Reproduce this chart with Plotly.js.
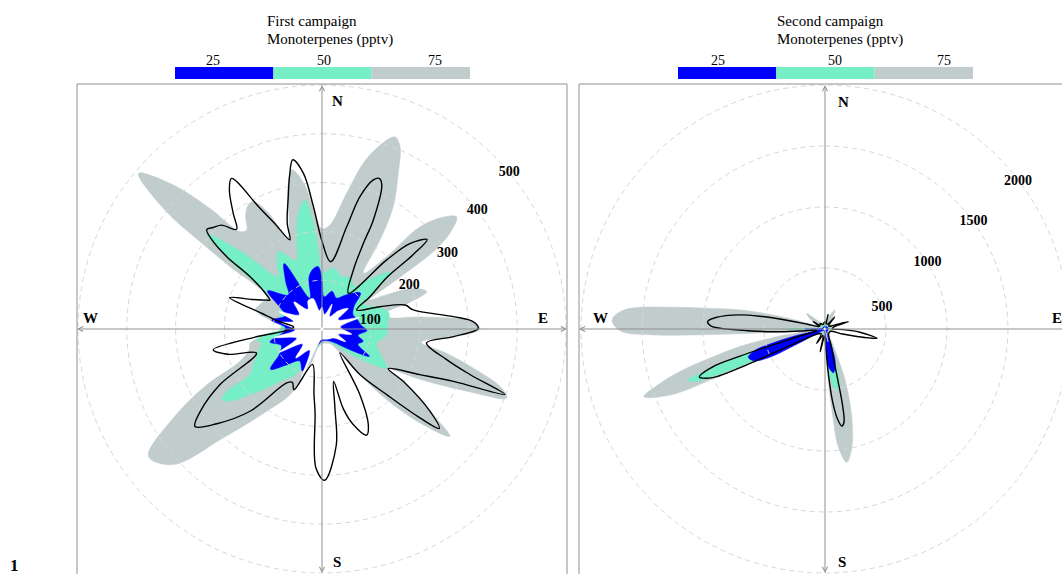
<!DOCTYPE html>
<html><head><meta charset="utf-8">
<script src="https://cdn.plot.ly/plotly-3.0.1.min.js"></script>
<style>html,body{margin:0;padding:0;background:#fff;}#chart{width:1062px;height:574px;}</style>
</head><body><div id="chart"></div>
<script>
// ---------- DATA (bearing in degrees clockwise from N, value in pptv) ----------
const percentileLabels = ['25', '50', '75'];
const percentileColors = ['#0000FF', '#76EEC6', '#C1CDCD'];

// First campaign
const p1Mean = [[0,180],[7.3,139],[13.6,216],[16,282],[19,323],[20.8,330],[22.5,320],[25.2,247],[25.8,195],[28,137],
 [36.4,91],[43.1,194],[45.8,251],[49.6,283],[50.8,240],[51.5,171],[56,119],[61.3,81],[68.9,127],[73.9,177],
 [78.2,191],[84.6,270],[87.2,310],[89.8,320],[93.3,270],[97.6,216],[103.8,263],[107.1,317],[109.7,398],[111.7,290],
 [115,221],[120.9,158],[122.8,198],[127.3,278],[130.3,315],[132.2,271],[135.4,189],[140.2,122],[143,61],[150,155],
 [154.2,218],[157.2,236],[161.9,206],[165,170],[167.5,110],[170.7,164],[173,240],[179,310],[182.5,285],[184.7,173],
 [187,135],[195,75],[204.8,137],[209,125],[213.2,132],[221.2,224],[228,290],[232.5,328],[236,300],[241.4,238],
 [249.8,143],[255,200],[259.2,227],[263,140],[268,70],[274,58],[280,90],[284.6,128],[288.8,200],[293,155],
 [297.5,128],[299,122],[301.6,133],[306,182],[307.2,245],[309,290],[310.8,312],[313,305],[316,296],[319.4,269],
 [322.5,299],[326.3,342],[329,360],[332.8,278],[336,235],[340.2,194],[341.8,228],[345.7,280],[348,320],[350.2,352],
 [353.2,321],[356,251]];
const p1P75 = [[0,205],[4.6,215],[10.3,283],[15,365],[20.8,421],[23.2,406],[26.1,355],[30.2,290],[33.1,218],[36.6,142],
 [41.8,199],[43.8,290],[47,335],[50.2,359],[53,330],[55,285],[56.5,190],[58.5,115],[62,150],[66,205],
 [70.4,228],[73,190],[76,135],[80,140],[83,202],[87,304],[90,324],[93,280],[97.5,205],[101,260],
 [104.5,320],[108,385],[110.5,404],[113,330],[117,230],[121,160],[123,198],[127.3,278],[130,342],[133.8,278],
 [137.5,196],[140,131],[143,60],[150,35],[165,30],[180,30],[192,40],[198,80],[206,150],[213.9,203],
 [222.2,301],[227.6,412],[233.7,441],[239.1,355],[244.2,262],[248.5,181],[254,155],[259,150],[265,100],[270,72],
 [280,110],[286,142],[293,135],[300.3,131],[304.1,228],[305.6,307],[307,399],[310.3,493],[314.1,424],[317.1,337],
 [319.9,261],[322.7,255],[326,280],[329.3,296],[331.7,296],[335,265],[339.5,200],[343,230],[346,290],[349.3,332],
 [353,300],[356,245]];
const p1P50 = [[0,115],[10.8,127],[20,115],[29,120],[37,110],[45,150],[50.3,182],[55,130],[60,100],[68,120],
 [76.5,141],[85,135],[95,133],[105,115],[113,130],[121,155],[127,110],[135,60],[145,35],[160,25],
 [180,25],[195,40],[205,80],[212,115],[218.7,137],[223,165],[227.6,200],[232,240],[234.8,251],[236.8,233],
 [237.6,175],[242,160],[250,140],[256.9,127],[260.4,136],[265,110],[270,85],[285,90],[298,97],[304.3,154],
 [306.5,226],[309.6,306],[314.1,223],[317.3,156],[320,140],[326,165],[331,182],[336,160],[340,150],[343,176],
 [348.4,242],[352.5,266],[356,203],[358.3,135]];
const p1P25 = [[0,100],[4,66],[15,80],[25,70],[35,85],[46.9,108],[55,80],[65,70],[75,75],[84,80],
 [92,92],[100,75],[106.6,88],[113,80],[120,112],[127,70],[140,35],[160,25],[180,25],[195,35],
 [205,95],[215,80],[225,105],[232,134],[240,100],[248,90],[256,110],[265,80],[272,75],[280,105],
 [290,80],[298,100],[305,136],[315.3,98],[322,120],[330,155],[338.6,68],[346,110],[352,125],[356.6,128]];
const p1Inner = [[0,45],[10,30],[22,55],[32,30],[42,50],[52,68],[60,38],[73,80],[84,38],[100,62],
 [108,35],[118,55],[128,30],[145,25],[165,22],[185,22],[195,35],[203,110],[210,50],[222,80],
 [232,50],[241.5,100],[250,55],[260,100],[268,55],[279,85],[285,60],[292,95],[302,55],[314,80],
 [324,50],[334,65],[343.7,65],[352,38]];
const p1TickVals = [100, 200, 300, 400, 500];

// Second campaign
const p2Mean = [[0,60],[8,45],[12,120],[16,45],[28,45],[39,125],[45,45],[57,40],[66,70],[72.5,200],
 [78,70],[88,60],[92,150],[95,280],[100.2,433],[103,282],[106,150],[112,50],[130,45],[145,50],
 [155,80],[160,150],[164,250],[166,450],[167.1,650],[168.5,780],[170.2,808],[172,750],[174,600],[175.5,400],
 [177.5,150],[183,60],[192,190],[198,55],[210,136],[218,50],[232,60],[240,100],[243,150],[245,400],
 [245.4,700],[246.6,1003],[249.1,1102],[251.4,971],[252.3,737],[253,450],[254.5,200],[258,70],[262,70],[265.4,206],
 [267,426],[269.3,701],[271.5,934],[273.6,964],[276,900],[279.4,710],[281.3,520],[282.5,380],[285,150],[290,60],
 [296,50],[302,113],[308,50],[320,60],[335,40],[350,50]];
const p2P75 = [[0,60],[15,100],[27.8,175],[40,80],[60,55],[90,70],[120,50],[145,60],[152,120],[155,200],
 [158.6,450],[163,750],[167.2,994],[170.7,1107],[173.5,977],[175,700],[176.5,400],[179,150],[185,60],[200,60],
 [225,70],[238,80],[243,300],[245,500],[246,1000],[246.8,1370],[249.5,1585],[252,1400],[254,1200],[256,950],
 [258.5,700],[261,400],[262.5,220],[264.5,230],[265.6,290],[266.6,600],[267.3,1000],[268,1400],[269.5,1680],[272.4,1747],
 [275.4,1656],[278.2,1249],[279.9,990],[282.8,704],[285.2,441],[288,200],[295,80],[304,150],[310.5,198],[318,100],
 [330,60],[345,55]];
const p2P50 = [[0,30],[27,70],[45,30],[90,40],[130,30],[155,40],[160,200],[163,355],[166,480],[169.6,512],
 [172.5,450],[175.5,366],[178,150],[185,40],[220,30],[240,40],[244,200],[245.5,500],[246.8,900],[248,1150],
 [249.5,1202],[250.8,1000],[252,750],[253.5,450],[256,150],[262,50],[267,60],[269,250],[270.5,316],[272,150],
 [275,50],[300,40],[310,70],[330,30]];
const p2P25 = [[0,20],[40,25],[90,25],[130,25],[155,40],[159,150],[163,290],[169,365],[174,320],[177,200],
 [180,60],[190,20],[230,20],[238,30],[241.5,250],[243,520],[246,640],[249.8,670],[253,600],[255,450],
 [257,250],[260,60],[265,30],[268,100],[270,165],[272,60],[280,25],[310,20],[340,20]];
const p2Inner = [[0,12],[45,10],[90,12],[135,10],[160,12],[167,110],[172,12],[225,12],[270,15],[315,10]];
const p2TickVals = [500, 1000, 1500, 2000];

// ---------- STYLE / PLACEMENT ----------
const W = 1062, H = 574;
const px = x => x / W, py = y => (H - y) / H;
const FONT = 'Liberation Serif, Times New Roman, serif';
const p1LabelBearing = [80.5, 63.4, 59, 52.7, 50.1];
const p2LabelBearing = [69.2, 57.1, 54.2, 52.4];
const P2_RANGE = 1943;            // radial range that fits the page
const P2_CENTER = [825, 329], P2_PX_PER_UNIT = 237 / P2_RANGE;

function closed(pairs) {
  const t = pairs.map(p => p[0]), r = pairs.map(p => p[1]);
  t.push(pairs[0][0] + 360); r.push(pairs[0][1]);
  return {theta: t, r: r};
}
function fillTrace(sub, pairs, color) {
  const c = closed(pairs);
  return {type: 'scatterpolar', subplot: sub, theta: c.theta, r: c.r, mode: 'lines',
    fill: 'toself', fillcolor: color, line: {width: 0.5, color: color, shape: 'spline', smoothing: 1},
    hoverinfo: 'skip', showlegend: false};
}
function lineTrace(sub, pairs) {
  const c = closed(pairs);
  return {type: 'scatterpolar', subplot: sub, theta: c.theta, r: c.r, mode: 'lines',
    line: {width: 1.4, color: '#000', shape: 'spline', smoothing: 1},
    hoverinfo: 'skip', showlegend: false};
}
function gridTraces(sub, vals, max) {
  const th = []; for (let a = 0; a <= 360; a += 2) th.push(a);
  return vals.filter(v => v <= max).map(v => ({type: 'scatterpolar', subplot: sub, theta: th, r: th.map(() => v), mode: 'lines',
    line: {width: 1, color: '#d6d6d6', dash: '5px,4px'}, cliponaxis: false, hoverinfo: 'skip', showlegend: false}));
}
function labelTrace(sub, vals, bearings, max) {
  const idx = vals.map((v, i) => i).filter(i => vals[i] <= max);
  return {type: 'scatterpolar', subplot: sub, r: idx.map(i => vals[i]), theta: idx.map(i => bearings[i]), mode: 'text',
    text: idx.map(i => '<b>' + vals[i] + '</b>'), textposition: 'middle center',
    textfont: {family: FONT, size: 14, color: '#000'}, cliponaxis: false, hoverinfo: 'skip', showlegend: false};
}

const traces = [
  fillTrace('polar', p1P75, percentileColors[2]),
  fillTrace('polar', p1P50, percentileColors[1]),
  fillTrace('polar', p1P25, percentileColors[0]),
  fillTrace('polar', p1Inner, '#FFFFFF'),
  ...gridTraces('polar', p1TickVals, 502),
  lineTrace('polar', p1Mean),
  labelTrace('polar', p1TickVals, p1LabelBearing, 502),
  fillTrace('polar2', p2P75, percentileColors[2]),
  fillTrace('polar2', p2P50, percentileColors[1]),
  fillTrace('polar2', p2P25, percentileColors[0]),
  fillTrace('polar2', p2Inner, '#FFFFFF'),
  ...gridTraces('polar2', p2TickVals, P2_RANGE),
  lineTrace('polar2', p2Mean),
  labelTrace('polar2', p2TickVals, p2LabelBearing, P2_RANGE)
];

const hiddenAngular = {rotation: 90, direction: 'clockwise', showgrid: false, showline: false,
  showticklabels: false, ticks: ''};
function radial(max) {
  return {range: [0, max], showgrid: false, showline: false, showticklabels: false, ticks: ''};
}

const GREY = '#8f8f8f';
const shapes = [];
const annotations = [];
function arrow(hx, hy, cx, cy) {
  annotations.push({x: px(hx), y: py(hy), xref: 'paper', yref: 'paper', ax: cx - hx, ay: cy - hy,
    axref: 'pixel', ayref: 'pixel', text: '', showarrow: true, arrowhead: 5, arrowsize: 1,
    arrowwidth: 1, arrowcolor: GREY, standoff: 0});
}
function label(x, y, txt, size, opts) {
  annotations.push(Object.assign({x: px(x), y: py(y), xref: 'paper', yref: 'paper', text: txt,
    showarrow: false, font: {family: FONT, size: size, color: '#000'}, xanchor: 'center', yanchor: 'middle'}, opts || {}));
}
function panel(box, c, compass, key, titles) {
  shapes.push({type: 'rect', xref: 'paper', yref: 'paper', x0: px(box[0]), x1: px(box[1]), y0: py(box[2]), y1: py(box[3]),
    line: {color: GREY, width: 1}, fillcolor: 'rgba(0,0,0,0)'});
  arrow(box[0], c[1], c[0], c[1]);
  if (box[1] <= W) arrow(box[1], c[1], c[0], c[1]);
  else shapes.push({type: 'line', xref: 'paper', yref: 'paper', x0: px(c[0]), x1: px(W), y0: py(c[1]), y1: py(c[1]),
    line: {color: GREY, width: 1}});
  arrow(c[0], box[2] + 1, c[0], c[1]);
  arrow(c[0], H - 1, c[0], c[1]);
  compass.forEach(d => label(d[1], d[2], '<b>' + d[0] + '</b>', 15, d[3] || {}));
  const seg = (key.x1 - key.x0) / 3;
  percentileColors.forEach((col, i) => {
    shapes.push({type: 'rect', xref: 'paper', yref: 'paper', x0: px(key.x0 + i * seg), x1: px(key.x0 + (i + 1) * seg),
      y0: py(67), y1: py(79), line: {width: 0}, fillcolor: col});
    label(key.labels[i], 60, percentileLabels[i], 14);
  });
  label(titles.x, 21, titles.lines[0], 15, {xanchor: 'left'});
  label(titles.x, 39, titles.lines[1], 15, {xanchor: 'left'});
}

panel([77, 567, 84, 620], [322, 329],
  [['N', 337, 101], ['E', 543, 318], ['S', 337, 562], ['W', 90, 318]],
  {x0: 175, x1: 470, labels: [213, 324, 435]},
  {x: 265, lines: ['First campaign', 'Monoterpenes (pptv)']});
panel([579, 1090, 84, 620], [825, 329],
  [['N', 843, 102], ['E', 1050, 318, {xanchor: 'left'}], ['S', 842, 562], ['W', 600, 318]],
  {x0: 678, x1: 973, labels: [718, 835, 944]},
  {x: 775, lines: ['Second campaign', 'Monoterpenes (pptv)']});

// panel-2 rings / labels that lie beyond the plotted radial range (cut by the page edge)
p2TickVals.forEach((v, i) => {
  if (v <= P2_RANGE) return;
  const rr = v * P2_PX_PER_UNIT;
  shapes.push({type: 'circle', xref: 'paper', yref: 'paper', layer: 'below',
    x0: px(P2_CENTER[0] - rr), x1: px(P2_CENTER[0] + rr), y0: py(P2_CENTER[1] + rr), y1: py(P2_CENTER[1] - rr),
    line: {color: '#d6d6d6', width: 1, dash: '5px,4px'}, fillcolor: 'rgba(0,0,0,0)'});
  const b = p2LabelBearing[i] * Math.PI / 180;
  label(P2_CENTER[0] + rr * Math.sin(b), P2_CENTER[1] - rr * Math.cos(b), '<b>' + v + '</b>', 14);
});
label(14, 565, '<b>1</b>', 17);

const layout = {
  width: W, height: H, margin: {l: 0, r: 0, t: 0, b: 0}, paper_bgcolor: '#fff', showlegend: false,
  polar: {domain: {x: [px(77), px(567)], y: [0, py(84)]}, bgcolor: 'rgba(0,0,0,0)',
    radialaxis: radial(502), angularaxis: hiddenAngular},
  polar2: {domain: {x: [px(588), 1], y: [py(566), py(92)]}, bgcolor: 'rgba(0,0,0,0)',
    radialaxis: radial(P2_RANGE), angularaxis: hiddenAngular},
  shapes: shapes, annotations: annotations
};
Plotly.newPlot('chart', traces, layout, {displayModeBar: false, staticPlot: true});
</script></body></html>
